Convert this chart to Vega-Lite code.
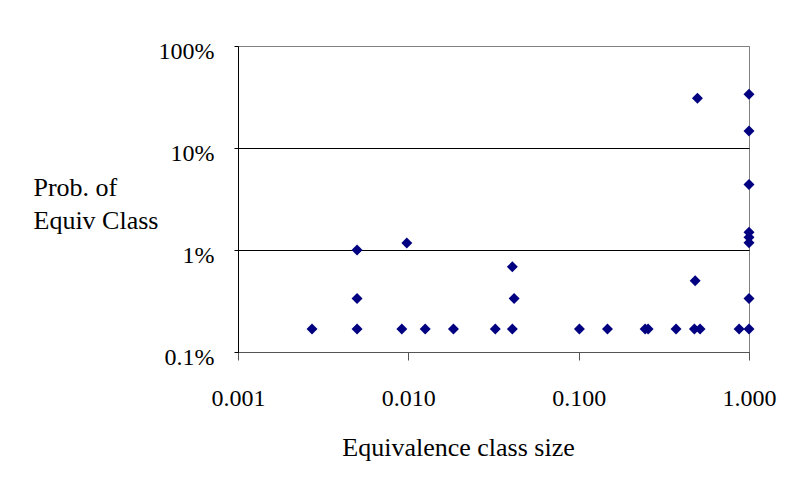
{
  "$schema": "https://vega.github.io/schema/vega-lite/v6.json",
  "width": 511,
  "height": 306,
  "autosize": {"type": "none"},
  "padding": {"left": 238, "top": 46, "right": 40, "bottom": 131},
  "background": "white",
  "config": {
    "view": {"stroke": "#808080", "strokeWidth": 1},
    "font": "Liberation Serif"
  },
  "data": {
    "values": [
      {"size": 0.00272, "prob": 0.00168},
      {"size": 0.005, "prob": 0.00168},
      {"size": 0.005, "prob": 0.00334},
      {"size": 0.005, "prob": 0.0100},
      {"size": 0.00916, "prob": 0.00168},
      {"size": 0.0098, "prob": 0.0117},
      {"size": 0.01256, "prob": 0.00168},
      {"size": 0.0184, "prob": 0.00168},
      {"size": 0.0324, "prob": 0.00168},
      {"size": 0.0408, "prob": 0.00168},
      {"size": 0.0418, "prob": 0.00334},
      {"size": 0.0408, "prob": 0.00685},
      {"size": 0.101, "prob": 0.00168},
      {"size": 0.1476, "prob": 0.00168},
      {"size": 0.2456, "prob": 0.00168},
      {"size": 0.2557, "prob": 0.00168},
      {"size": 0.373, "prob": 0.00168},
      {"size": 0.478, "prob": 0.00168},
      {"size": 0.483, "prob": 0.00499},
      {"size": 0.498, "prob": 0.307},
      {"size": 0.516, "prob": 0.00168},
      {"size": 0.875, "prob": 0.00168},
      {"size": 1.0, "prob": 0.00168},
      {"size": 1.0, "prob": 0.00334},
      {"size": 1.0, "prob": 0.0118},
      {"size": 1.0, "prob": 0.0133},
      {"size": 1.0, "prob": 0.0149},
      {"size": 1.0, "prob": 0.0439},
      {"size": 1.0, "prob": 0.147},
      {"size": 1.0, "prob": 0.337}
    ]
  },
  "mark": {"type": "point", "shape": "diamond", "filled": true, "size": 120, "color": "#000080", "opacity": 1},
  "encoding": {
    "x": {
      "field": "size",
      "type": "quantitative",
      "scale": {"type": "log", "domain": [0.001, 1], "nice": false},
      "axis": {
        "values": [0.001, 0.01, 0.1, 1],
        "format": ".3f",
        "grid": false,
        "domainColor": "#555555",
        "tickColor": "#555555",
        "tickSize": 8,
        "labelFontSize": 24,
        "labelColor": "black",
        "labelPadding": 26,
        "labelFlush": false,
        "title": "Equivalence class size",
        "titleFontSize": 26,
        "titleFontWeight": "normal",
        "titleColor": "black",
        "titleX": 220,
        "titleY": 95,
        "titleAlign": "center",
        "titleBaseline": "middle"
      }
    },
    "y": {
      "field": "prob",
      "type": "quantitative",
      "scale": {"type": "log", "domain": [0.001, 1], "nice": false},
      "axis": {
        "values": [0.001, 0.01, 0.1, 1],
        "labelExpr": "datum.value < 0.005 ? '0.1%' : format(datum.value, '.0%')",
        "grid": true,
        "gridColor": {"condition": {"test": "datum.value >= 0.5", "value": "#808080"}, "value": "black"},
        "gridOpacity": 1,
        "domainColor": "black",
        "tickColor": "black",
        "tickSize": 4,
        "labelFontSize": 24,
        "labelColor": "black",
        "labelPadding": 20,
        "labelOffset": 5,
        "labelFlush": false,
        "title": ["\u00a0Prob. of", "Equiv Class"],
        "titleFontSize": 26,
        "titleFontWeight": "normal",
        "titleColor": "black",
        "titleAngle": 0,
        "titleX": -205,
        "titleY": 141,
        "titleAlign": "left",
        "titleBaseline": "middle",
        "titleLineHeight": 33
      }
    }
  }
}
